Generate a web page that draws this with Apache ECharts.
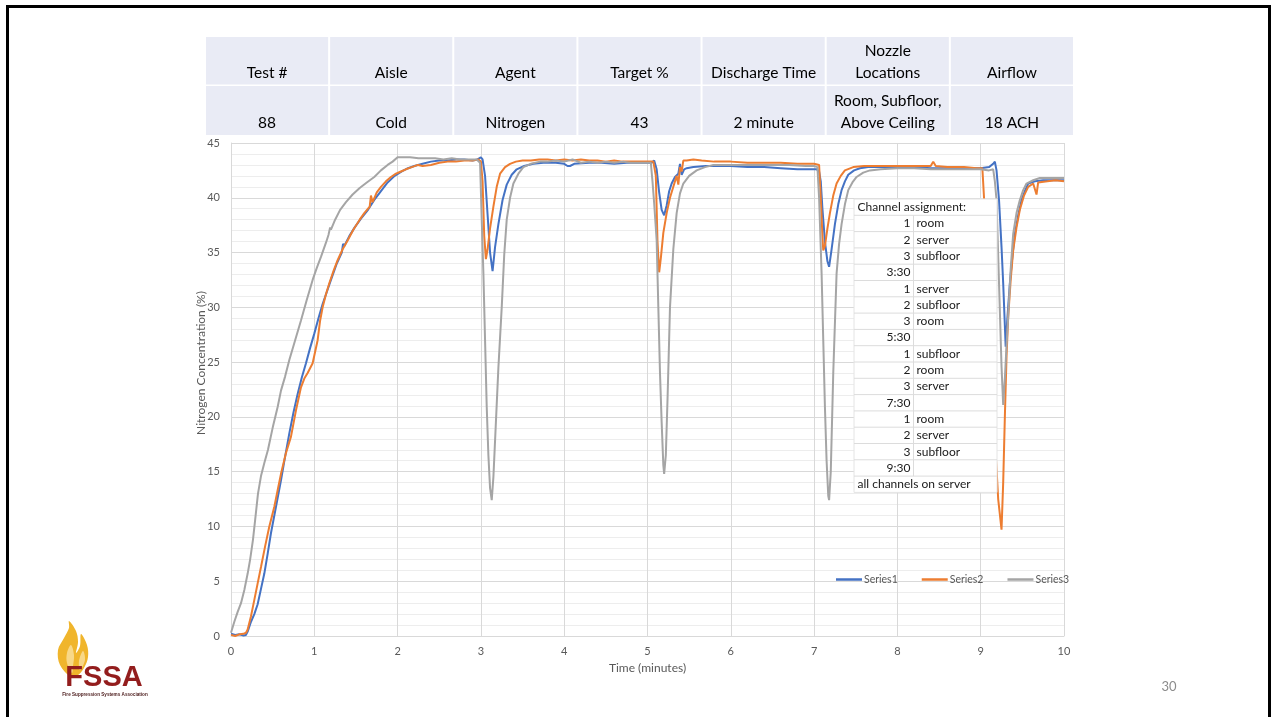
<!DOCTYPE html>
<html><head><meta charset="utf-8">
<script src="https://cdn.jsdelivr.net/npm/echarts@6/dist/echarts.min.js"></script>
<style>html,body{margin:0;padding:0;background:#fff;}#c{width:1276px;height:717px;}</style>
</head><body><div id="c"></div>
<script>
const seriesNames = ['Series1', 'Series2', 'Series3'];
const seriesColors = ['#4472c4', '#ed7d31', '#a5a5a5'];

// [time (minutes), concentration (%)]
const series1 = [[0,0.2],[0.05,0.1],[0.1,0.15],[0.15,0.05],[0.18,0.1],[0.2,0.4],[0.24,1.3],[0.28,2.0],[0.32,2.9],[0.36,4.3],[0.4,5.7],[0.44,7.5],[0.48,9.4],[0.54,11.8],[0.6,14.2],[0.65,16.4],[0.7,18.5],[0.75,20.4],[0.8,22.1],[0.85,23.6],[0.9,24.9],[0.95,26.3],[1.0,27.6],[1.05,29.0],[1.1,30.3],[1.15,31.4],[1.2,32.5],[1.27,34.0],[1.33,35.0],[1.345,35.8],[1.36,35.6],[1.42,36.5],[1.485,37.3],[1.56,38.1],[1.645,38.9],[1.72,39.8],[1.8,40.6],[1.88,41.4],[1.965,42.0],[2.05,42.4],[2.125,42.7],[2.2,42.9],[2.3,43.1],[2.4,43.3],[2.5,43.4],[2.6,43.4],[2.7,43.5],[2.8,43.5],[2.9,43.4],[2.96,43.5],[3.0,43.7],[3.02,43.5],[3.05,42.0],[3.08,38.5],[3.11,35.0],[3.14,33.3],[3.17,35.5],[3.21,37.6],[3.26,39.8],[3.31,41.2],[3.37,42.1],[3.43,42.6],[3.52,42.9],[3.63,43.1],[3.75,43.2],[3.9,43.2],[4.0,43.1],[4.04,42.9],[4.07,42.9],[4.12,43.1],[4.3,43.2],[4.45,43.2],[4.6,43.1],[4.75,43.2],[4.9,43.2],[5.0,43.2],[5.05,43.2],[5.08,43.4],[5.11,42.6],[5.14,40.5],[5.17,38.9],[5.2,38.4],[5.23,39.3],[5.26,40.6],[5.29,41.3],[5.33,41.9],[5.37,42.2],[5.39,43.1],[5.41,42.1],[5.44,42.6],[5.47,42.7],[5.55,42.8],[5.7,42.9],[5.85,42.9],[6.0,42.9],[6.2,42.8],[6.4,42.8],[6.6,42.7],[6.8,42.6],[6.95,42.6],[7.03,42.6],[7.06,42.4],[7.08,41.5],[7.1,39.0],[7.13,36.0],[7.16,34.2],[7.18,33.7],[7.21,35.3],[7.25,37.6],[7.29,39.4],[7.33,40.7],[7.37,41.5],[7.41,42.1],[7.48,42.5],[7.55,42.7],[7.65,42.8],[7.8,42.8],[8.0,42.8],[8.2,42.8],[8.4,42.7],[8.6,42.7],[8.8,42.7],[9.0,42.7],[9.1,42.8],[9.15,43.1],[9.17,43.3],[9.19,42.5],[9.22,39.8],[9.25,35.5],[9.27,32.2],[9.3,26.4],[9.32,29.0],[9.35,32.2],[9.38,34.6],[9.41,36.7],[9.45,38.4],[9.49,39.8],[9.53,40.6],[9.57,41.3],[9.65,41.5],[9.75,41.6],[9.85,41.6],[10.0,41.6]];

const series2 = [[0,0.1],[0.05,0.0],[0.1,0.15],[0.15,0.2],[0.18,0.3],[0.2,0.6],[0.24,1.8],[0.28,3.3],[0.32,4.8],[0.36,6.3],[0.41,8.2],[0.46,10.0],[0.52,11.8],[0.56,13.3],[0.6,14.8],[0.66,16.7],[0.72,18.2],[0.78,20.6],[0.84,22.7],[0.88,23.5],[0.92,24.0],[0.98,24.9],[1.04,27.0],[1.07,28.8],[1.1,30.0],[1.14,31.2],[1.18,32.2],[1.23,33.3],[1.28,34.3],[1.34,35.3],[1.4,36.1],[1.47,37.1],[1.545,38.0],[1.6,38.6],[1.665,39.2],[1.68,40.2],[1.7,39.6],[1.75,40.5],[1.8,41.0],[1.86,41.5],[1.92,41.9],[1.98,42.2],[2.04,42.4],[2.1,42.6],[2.17,42.8],[2.245,43.0],[2.3,42.9],[2.4,43.0],[2.5,43.2],[2.6,43.3],[2.7,43.3],[2.8,43.4],[2.9,43.4],[2.97,43.5],[3.0,43.3],[3.02,41.5],[3.04,36.5],[3.06,34.4],[3.08,35.3],[3.11,37.2],[3.15,39.2],[3.19,41.0],[3.23,42.2],[3.29,42.8],[3.35,43.1],[3.42,43.3],[3.5,43.4],[3.6,43.4],[3.7,43.5],[3.8,43.5],[3.9,43.4],[4.0,43.5],[4.1,43.4],[4.2,43.5],[4.3,43.4],[4.4,43.4],[4.5,43.3],[4.6,43.4],[4.7,43.3],[4.8,43.3],[4.9,43.3],[5.0,43.3],[5.07,43.3],[5.1,42.0],[5.12,36.0],[5.14,33.2],[5.16,34.5],[5.19,36.8],[5.23,38.6],[5.27,40.0],[5.31,41.0],[5.35,42.0],[5.37,41.2],[5.39,42.8],[5.41,42.4],[5.43,43.4],[5.47,43.4],[5.55,43.5],[5.65,43.4],[5.8,43.3],[6.0,43.3],[6.2,43.2],[6.4,43.2],[6.6,43.2],[6.8,43.1],[7.0,43.1],[7.06,43.0],[7.08,40.0],[7.1,36.5],[7.11,35.2],[7.13,35.6],[7.16,37.2],[7.19,38.6],[7.23,40.2],[7.27,41.3],[7.32,42.0],[7.37,42.5],[7.47,42.8],[7.6,42.9],[7.8,42.9],[8.0,42.9],[8.2,42.9],[8.4,42.9],[8.43,43.3],[8.46,42.9],[8.6,42.8],[8.8,42.8],[8.95,42.7],[9.02,42.7],[9.04,40.0],[9.07,36.0],[9.12,28.0],[9.17,18.0],[9.21,12.5],[9.25,9.7],[9.27,14.0],[9.29,20.0],[9.31,25.5],[9.33,29.1],[9.36,32.5],[9.39,35.2],[9.43,37.3],[9.47,38.9],[9.52,40.2],[9.57,41.0],[9.63,41.3],[9.67,40.3],[9.69,41.4],[9.71,41.5],[9.8,41.5],[9.9,41.6],[10.0,41.5]];

const series3 = [[0,0.3],[0.04,1.3],[0.08,2.2],[0.12,3.0],[0.16,4.2],[0.2,5.7],[0.23,7.0],[0.264,8.8],[0.29,10.6],[0.324,13.0],[0.36,14.6],[0.4,15.8],[0.444,17.0],[0.5,19.0],[0.56,20.9],[0.6,22.4],[0.65,23.7],[0.7,25.2],[0.77,27.0],[0.84,28.8],[0.91,30.7],[0.98,32.5],[1.03,33.6],[1.08,34.6],[1.14,35.9],[1.17,36.6],[1.19,37.3],[1.2,37.1],[1.25,38.0],[1.31,38.9],[1.38,39.6],[1.46,40.3],[1.545,40.9],[1.63,41.4],[1.72,41.9],[1.8,42.5],[1.88,43.0],[1.94,43.3],[2.0,43.7],[2.06,43.7],[2.15,43.7],[2.25,43.6],[2.35,43.6],[2.45,43.6],[2.55,43.5],[2.65,43.6],[2.75,43.5],[2.85,43.5],[2.95,43.5],[2.99,43.2],[3.01,38.0],[3.03,33.1],[3.05,27.0],[3.07,20.9],[3.09,16.5],[3.11,13.5],[3.13,12.4],[3.15,14.5],[3.18,19.5],[3.21,24.5],[3.25,30.0],[3.28,34.8],[3.31,38.0],[3.35,40.0],[3.39,41.3],[3.45,42.2],[3.51,42.8],[3.6,43.1],[3.71,43.3],[3.8,43.3],[3.9,43.4],[4.0,43.3],[4.1,43.5],[4.2,43.2],[4.3,43.3],[4.4,43.2],[4.5,43.3],[4.6,43.2],[4.7,43.3],[4.8,43.2],[4.9,43.2],[5.0,43.2],[5.04,43.2],[5.06,41.5],[5.08,39.5],[5.11,36.1],[5.13,30.0],[5.15,24.0],[5.17,19.5],[5.19,15.6],[5.2,14.8],[5.22,16.5],[5.24,21.5],[5.27,30.0],[5.31,35.3],[5.35,38.6],[5.39,40.4],[5.43,41.3],[5.5,42.0],[5.59,42.5],[5.69,42.8],[5.79,43.0],[5.95,43.0],[6.1,43.0],[6.3,43.0],[6.5,43.0],[6.7,43.0],[6.9,42.9],[7.0,42.9],[7.04,42.8],[7.06,40.0],[7.09,33.1],[7.11,27.0],[7.13,20.9],[7.15,16.0],[7.17,12.8],[7.18,12.4],[7.2,15.0],[7.23,24.0],[7.27,33.1],[7.3,35.8],[7.33,37.6],[7.37,39.4],[7.41,40.7],[7.46,41.4],[7.51,41.9],[7.59,42.3],[7.67,42.5],[7.8,42.6],[8.0,42.7],[8.2,42.7],[8.4,42.6],[8.6,42.6],[8.8,42.6],[9.0,42.6],[9.1,42.5],[9.15,42.6],[9.17,41.5],[9.19,39.8],[9.22,32.2],[9.25,24.6],[9.27,21.1],[9.29,23.5],[9.31,26.5],[9.33,29.1],[9.36,33.5],[9.39,36.7],[9.43,38.6],[9.47,39.8],[9.51,40.7],[9.55,41.3],[9.63,41.6],[9.71,41.8],[9.8,41.8],[9.9,41.8],[10.0,41.8]];

const tableHeaders = ['Test #', 'Aisle', 'Agent', 'Target %', 'Discharge Time', 'Nozzle\nLocations', 'Airflow'];
const tableValues = ['88', 'Cold', 'Nitrogen', '43', '2 minute', 'Room, Subfloor,\nAbove Ceiling', '18 ACH'];
const channelRows = [
  ['Channel assignment:', ''], ['1', 'room'], ['2', 'server'], ['3', 'subfloor'], ['3:30', ''],
  ['1', 'server'], ['2', 'subfloor'], ['3', 'room'], ['5:30', ''],
  ['1', 'subfloor'], ['2', 'room'], ['3', 'server'], ['7:30', ''],
  ['1', 'room'], ['2', 'server'], ['3', 'subfloor'], ['9:30', ''],
  ['all channels on server', '']
];
const slideNumber = '30';

const chart = echarts.init(document.getElementById('c'), null, { renderer: 'canvas' });
const FONT = 'Lato, "Open Sans", sans-serif';
const graphics = [];

// slide frame
graphics.push({ type: 'rect', z: 100, shape: { x: 7.5, y: 6.5, width: 1262, height: 800 }, style: { fill: 'none', stroke: '#000', lineWidth: 3 }, silent: true });

// header table
const tX0 = 206, tColW = 124.14, rowTops = [37, 86], rowH = [47.5, 49];
[tableHeaders, tableValues].forEach((row, r) => {
  row.forEach((txt, i) => {
    const x = tX0 + i * tColW;
    graphics.push({ type: 'rect', z: 100, shape: { x: x, y: rowTops[r], width: tColW - 2, height: rowH[r] }, style: { fill: '#e9ebf5' }, silent: true });
    graphics.push({ type: 'text', z: 101, x: x + (tColW - 2) / 2, y: rowTops[r] + rowH[r] - 1,
      style: { text: txt, fill: '#000', fontSize: 15.5, fontFamily: FONT, align: 'center', verticalAlign: 'bottom', lineHeight: 22 }, silent: true });
  });
});

// channel assignment box
const bx = 854, by = 199, bw = 143, rh = 16.3;
graphics.push({ type: 'rect', z: 100, shape: { x: bx, y: by, width: bw, height: rh * channelRows.length }, style: { fill: '#fff', stroke: '#e4e4e4', lineWidth: 1 }, silent: true });
for (let k = 1; k < channelRows.length; k++) {
  graphics.push({ type: 'line', z: 101, shape: { x1: bx, y1: by + k * rh, x2: bx + bw, y2: by + k * rh }, style: { stroke: '#dcdcdc', lineWidth: 1 }, silent: true });
}
graphics.push({ type: 'line', z: 101, shape: { x1: 913.5, y1: by + rh, x2: 913.5, y2: by + (channelRows.length - 1) * rh }, style: { stroke: '#dcdcdc', lineWidth: 1 }, silent: true });
channelRows.forEach((row, k) => {
  const cy = by + k * rh + rh / 2;
  if (k === 0 || k === channelRows.length - 1) {
    graphics.push({ type: 'text', z: 102, x: 857.5, y: cy, style: { text: row[0], fill: '#1a1a1a', fontSize: 12, fontFamily: FONT, align: 'left', verticalAlign: 'middle' }, silent: true });
  } else {
    graphics.push({ type: 'text', z: 102, x: 910.5, y: cy, style: { text: row[0], fill: '#1a1a1a', fontSize: 12, fontFamily: FONT, align: 'right', verticalAlign: 'middle' }, silent: true });
    if (row[1]) graphics.push({ type: 'text', z: 102, x: 916.5, y: cy, style: { text: row[1], fill: '#1a1a1a', fontSize: 12, fontFamily: FONT, align: 'left', verticalAlign: 'middle' }, silent: true });
  }
});

// y-axis title
graphics.push({ type: 'text', z: 50, x: 201, y: 363, rotation: Math.PI / 2,
  style: { text: 'Nitrogen Concentration (%)', fill: '#595959', fontSize: 12, fontFamily: FONT, align: 'center', verticalAlign: 'middle' }, silent: true });

// slide number
graphics.push({ type: 'text', z: 50, x: 1169, y: 687, style: { text: slideNumber, fill: '#8c8c8c', fontSize: 13, fontFamily: FONT, align: 'center', verticalAlign: 'middle' }, silent: true });

// FSSA logo
graphics.push({ type: 'polygon', z: 50, shape: { smooth: 0.35, points: [[71,677],[60,665],[58,650],[64,638],[69,628],[69,621],[76,631],[78,642],[76,653],[80,646],[81,634],[87,645],[88,657],[84,668],[77,676]] }, style: { fill: '#f0b52c' }, silent: true });
graphics.push({ type: 'polygon', z: 51, shape: { smooth: 0.35, points: [[72,673],[67,663],[67,653],[71,645],[74,655],[73,666]] }, style: { fill: '#f8d888' }, silent: true });
graphics.push({ type: 'polygon', z: 51, shape: { smooth: 0.35, points: [[80,670],[79,661],[83,651],[85,660]] }, style: { fill: '#f8d888' }, silent: true });
graphics.push({ type: 'text', z: 52, x: 104, y: 692, style: { text: 'FSSA', fill: '#931d1d', fontSize: 29, fontWeight: 'bold', fontFamily: '"Liberation Sans", Arial, sans-serif', align: 'center', verticalAlign: 'bottom' }, silent: true });
graphics.push({ type: 'text', z: 52, x: 105, y: 694, scaleX: 0.84, style: { text: 'Fire Suppression Systems Association', fill: '#4a1a1a', fontSize: 5.5, fontWeight: 'bold', fontFamily: '"Liberation Sans", Arial, sans-serif', align: 'center', verticalAlign: 'middle' }, silent: true });

const data = [series1, series2, series3];
const option = {
  animation: false,
  textStyle: { fontFamily: FONT },
  grid: { left: 231, right: 212, top: 143, bottom: 81, containLabel: false },
  legend: {
    data: seriesNames, left: 836, top: 574, padding: 0, icon: 'rect', itemWidth: 26, itemHeight: 2.5, itemGap: 24,
    textStyle: { fontSize: 10.5, color: '#595959', fontFamily: FONT, padding: [0, 0, 0, -3] }
  },
  xAxis: {
    type: 'value', min: 0, max: 10, interval: 1,
    name: 'Time (minutes)', nameLocation: 'middle', nameGap: 22,
    nameTextStyle: { fontSize: 12, color: '#595959', fontFamily: FONT },
    axisLine: { lineStyle: { color: '#d9d9d9', width: 1 } },
    axisTick: { show: false },
    axisLabel: { color: '#595959', fontSize: 11, margin: 10, fontFamily: FONT },
    splitLine: { show: true, lineStyle: { color: '#d9d9d9', width: 1 } }
  },
  yAxis: {
    type: 'value', min: 0, max: 45, interval: 5,
    axisLine: { show: true, lineStyle: { color: '#d9d9d9', width: 1 } },
    axisTick: { show: false },
    axisLabel: { color: '#595959', fontSize: 11, margin: 11, fontFamily: FONT },
    splitLine: { show: true, lineStyle: { color: '#d9d9d9', width: 1 } },
    minorTick: { show: false, splitNumber: 5 },
    minorSplitLine: { show: true, lineStyle: { color: '#ededed', width: 1 } }
  },
  series: seriesNames.map((n, i) => ({
    name: n, type: 'line', data: data[i], showSymbol: false, symbol: 'none',
    lineStyle: { width: 2, color: seriesColors[i] }, itemStyle: { color: seriesColors[i] },
    z: 2 + i
  })),
  graphic: { elements: graphics }
};
chart.setOption(option);
</script></body></html>
